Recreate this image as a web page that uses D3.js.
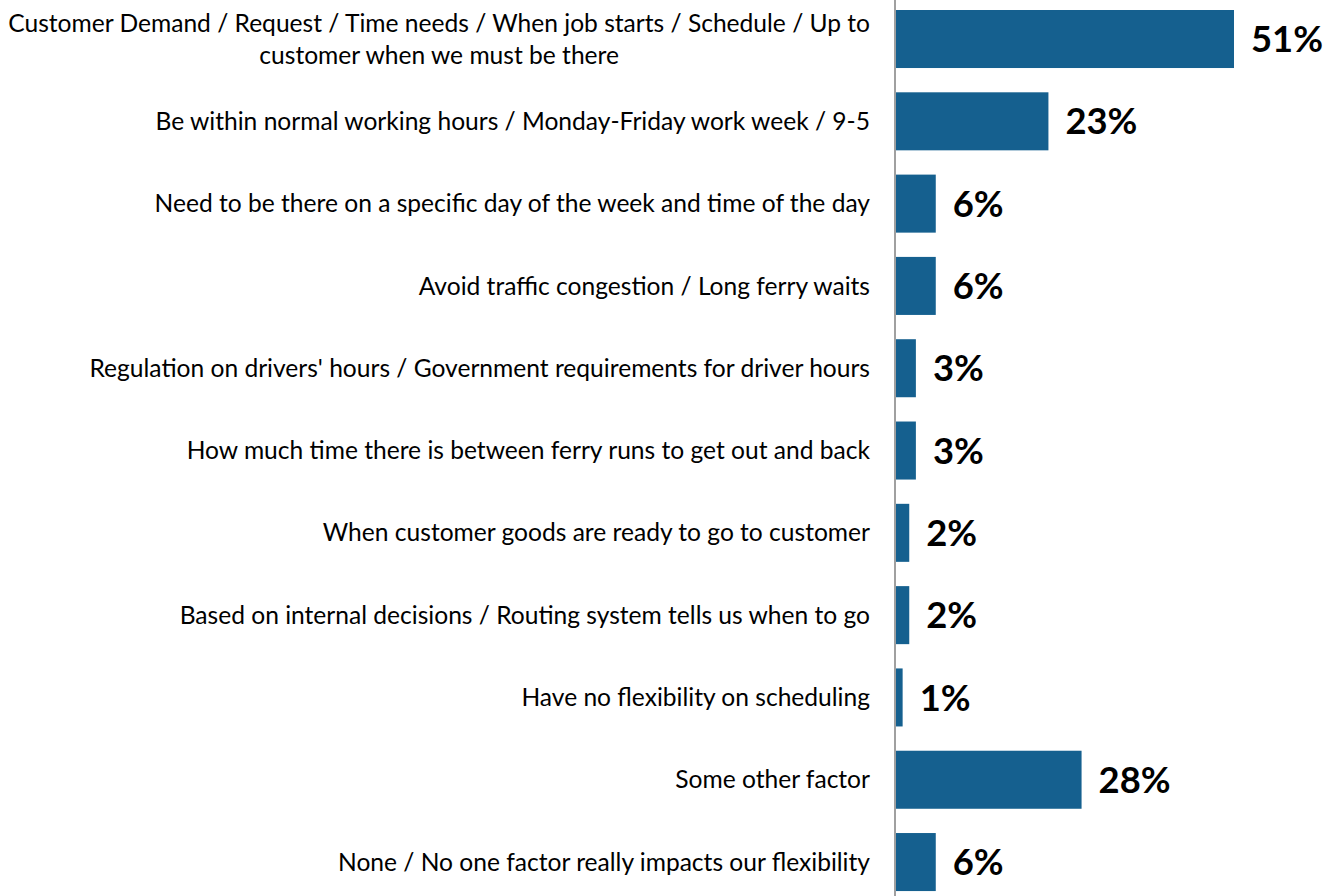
<!DOCTYPE html>
<html><head><meta charset="utf-8">
<script src="https://cdn.jsdelivr.net/npm/d3@7"></script>
<style>body{margin:0;background:#fff}svg{display:block}</style>
</head><body>
<script>
const categories = [
  ["Customer Demand / Request / Time needs / When job starts / Schedule / Up to", "customer when we must be there"],
  ["Be within normal working hours / Monday-Friday work week / 9-5"],
  ["Need to be there on a specific day of the week and time of the day"],
  ["Avoid traffic congestion / Long ferry waits"],
  ["Regulation on drivers' hours / Government requirements for driver hours"],
  ["How much time there is between ferry runs to get out and back"],
  ["When customer goods are ready to go to customer"],
  ["Based on internal decisions / Routing system tells us when to go"],
  ["Have no flexibility on scheduling"],
  ["Some other factor"],
  ["None / No one factor really impacts our flexibility"]
];
const values = [51, 23, 6, 6, 3, 3, 2, 2, 1, 28, 6];
const valueLabels = ["51%", "23%", "6%", "6%", "3%", "3%", "2%", "2%", "1%", "28%", "6%"];

const W = 1327, H = 896;
const svg = d3.select("body").append("svg").attr("width", W).attr("height", H);
const font = "Lato, 'Open Sans', sans-serif";

const idx = categories.map((d, i) => i);
const y = d3.scaleBand().domain(idx).range([-2.14, 903.2]).paddingInner(0.295).paddingOuter(0.1475);
const x = d3.scaleLinear().domain([0, 51]).range([896, 1234]);

// fit label font size
const probe = svg.append("text").attr("font-family", font).attr("font-size", 100)
  .text("Be within normal working hours / Monday-Friday work week / 9-5");
const labelSize = 100 * 715 / probe.node().getComputedTextLength();
probe.attr("font-weight", "bold").attr("font-size", 100).text("51%");
const valSize = 100 * 72 / probe.node().getComputedTextLength();
probe.remove();

svg.append("g").selectAll("rect").data(values).join("rect")
  .attr("x", x(0)).attr("y", (d, i) => y(i))
  .attr("width", d => x(d) - x(0)).attr("height", y.bandwidth())
  .attr("fill", "#15608f");

svg.append("line").attr("x1", 895).attr("x2", 895).attr("y1", 0).attr("y2", H)
  .attr("stroke", "#a0a0a0").attr("stroke-width", 2);

const lab = svg.append("g").selectAll("text").data(categories).join("text")
  .attr("font-family", font).attr("font-size", labelSize).attr("fill", "#000")
  .attr("text-anchor", "middle");
lab.each(function(lines, i) {
  const n = lines.length, lh = 32;
  const t = d3.select(this);
  t.selectAll("tspan").data(lines).join("tspan")
    .attr("x", 0).attr("y", (l, j) => (j - (n - 1) / 2) * lh)
    .attr("dy", "0.35em").text(l => l);
  let maxW = 0;
  t.selectAll("tspan").each(function() { maxW = Math.max(maxW, this.getComputedTextLength()); });
  t.attr("transform", `translate(${870 - maxW / 2},${y(i) + y.bandwidth() / 2})`);
});

svg.append("g").selectAll("text").data(values).join("text")
  .attr("font-family", font).attr("font-weight", "bold").attr("font-size", valSize)
  .attr("x", d => x(d) + 17).attr("y", (d, i) => y(i) + y.bandwidth() / 2)
  .attr("dy", "0.36em").text((d, i) => valueLabels[i]);
</script>
</body></html>
